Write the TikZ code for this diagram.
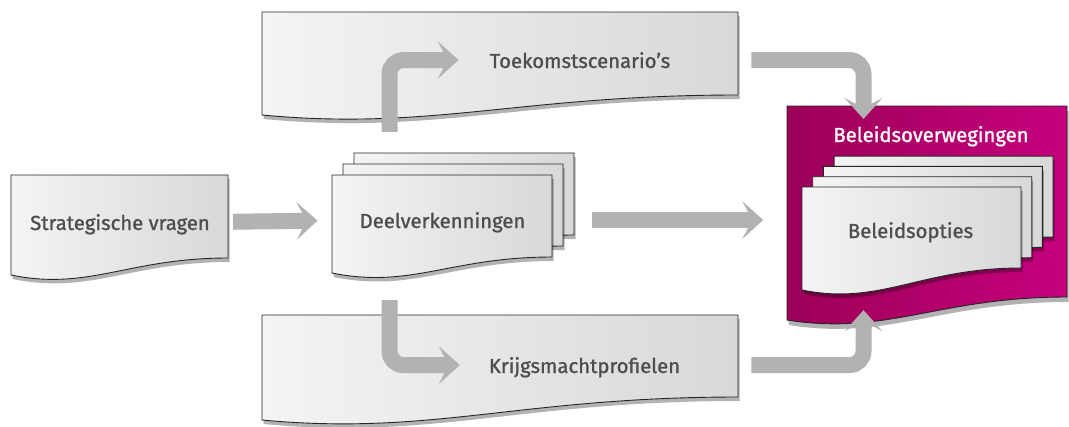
\documentclass[tikz,border=0pt]{standalone}
\usepackage{fontspec}
\setmainfont{Fira Sans}[FakeBold=1.2]
\usetikzlibrary{arrows.meta,shadows}

\definecolor{arrowgray}{HTML}{B1B2B1}
\definecolor{sheetlight}{HTML}{F4F4F4}
\definecolor{sheetdark}{HTML}{D7D8D8}
\definecolor{textgray}{HTML}{4E4E4E}
\definecolor{magentadark}{HTML}{9C0058}
\definecolor{magentalight}{HTML}{C6007D}

\tikzset{
  sheet/.style={draw=black!85, line width=0.9pt, left color=sheetlight, right color=sheetdark,
    drop shadow={shadow xshift=1.5pt, shadow yshift=-4pt, opacity=0.3, fill=black}},
  policy/.style={draw=black!85, line width=0.9pt, left color=magentadark, right color=magentalight,
    drop shadow={shadow xshift=1.5pt, shadow yshift=-5pt, opacity=0.3, fill=black}},
  lbl/.style={font=\fontsize{20.3}{24}\selectfont, text=textgray, inner sep=0pt, text depth=0pt, anchor=base},
  flow/.style={draw=arrowgray, line width=16pt, rounded corners=14pt,
    -{Stealth[length=21pt, width=38pt, inset=10pt, line width=0pt]}}
}

% document sheet: [style]{left}{top}{right}{bottom right}{bottom left}
\newcommand{\docsheet}[6][sheet]{%
  \pgfmathsetmacro{\dw}{#4-#2}%
  \draw[#1] (#2,#3) -- (#4,#3) -- (#4,#5)
    .. controls ({#2+0.54*\dw},#5) and ({#2+0.36*\dw},{#6+16}) .. (#2,#6) -- cycle;}

\begin{document}
\begin{tikzpicture}[x=1pt, y=-1pt]
    \useasboundingbox (0,0) rectangle (1069,426);

    % Scenario and profile sheets
    \docsheet{262}{12}{738}{95}{115}
    \docsheet{262}{315}{738}{397}{420}

    % Strategic questions
    \docsheet{11}{175}{228}{258}{275}

    % Sub-studies stack
    \foreach \k in {2,1,0} {
        \begin{scope}[shift={(11*\k,-11*\k)}]
            \docsheet{332}{175}{552}{257}{273}
        \end{scope}
    }

    % Policy considerations with options stack
    \docsheet[policy]{787}{106}{1067}{297}{320}
    \foreach \k in {3,2,1,0} {
        \begin{scope}[shift={(10.7*\k,-10.3*\k)}]
            \docsheet{802}{187}{1021}{268}{290}
        \end{scope}
    }

    % Labels
    \node[lbl] (strat) at (120,230) {Strategische vragen};
    \node[lbl] (deel) at (442.5,228) {Deelverkenningen};
    \node[lbl] (toek) at (580,68) {Toekomstscenario’s};
    \node[lbl] (krijg) at (584.5,373) {Krijgsmachtprofielen};
    \node[lbl] (opties) at (910.5,238) {Beleidsopties};
    \node[lbl, text=white] (overw) at (931,142) {Beleidsoverwegingen};

    % Flow
    \draw[flow, shorten <=23pt, shorten >=42pt] (strat.east) -- (deel.west);
    \draw[flow, shorten <=66pt, shorten >=70pt] (deel.east) -- (deel.east -| overw.west);
    \draw[flow, shorten <=80pt, shorten >=31pt] ([xshift=-53pt]deel.north) |- (toek.west);
    \draw[flow, shorten <=72pt, shorten >=29pt] ([xshift=-53pt]deel.south) |- (krijg.west);
    \draw[flow, shorten <=81pt, shorten >=103pt] (toek.east) -| ([xshift=-47pt]opties.north);
    \draw[flow, shorten <=71pt, shorten >=72pt] (krijg.east) -| ([xshift=-47pt]opties.south);
\end{tikzpicture}
\end{document}
